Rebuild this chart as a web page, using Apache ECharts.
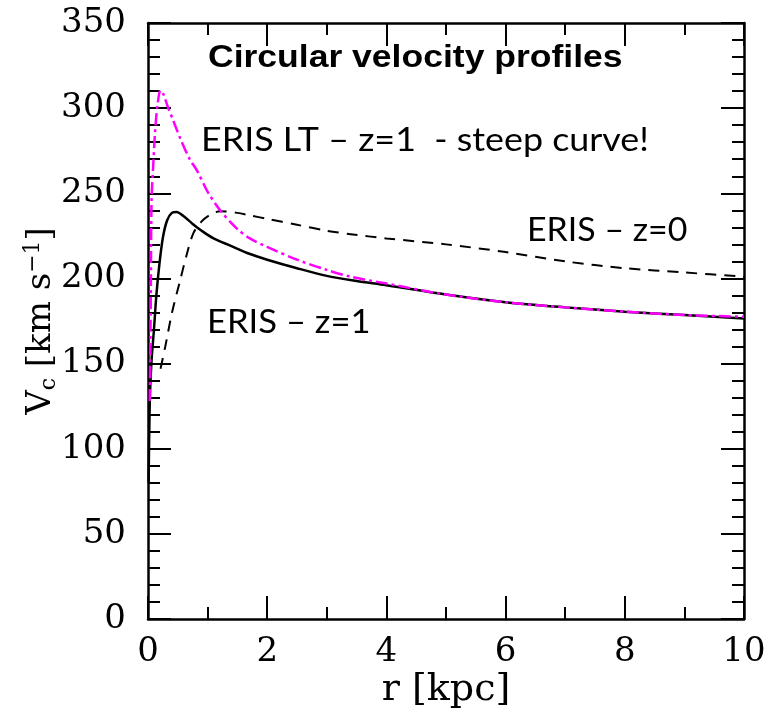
<!DOCTYPE html>
<html>
<head>
<meta charset="utf-8">
<script src="https://cdn.jsdelivr.net/npm/echarts@6/dist/echarts.min.js"></script>
<style>html,body{margin:0;padding:0;background:#fff}#c{width:768px;height:717px}</style>
</head>
<body>
<div id="c"></div>
<script>
// ERIS z=1 (solid black)
const rZ1 = [0.01,0.03,0.06,0.10,0.14,0.19,0.25,0.32,0.40,0.48,0.60,0.75,0.90,1.10,1.40,1.70,2.00,2.50,3.00,3.50,4.00,5.00,6.00,7.00,8.00,9.00,10.0];
const vZ1 = [80,128,152,170,190,208,224,234,238.5,239,236.5,232,228,223.5,219,214.5,211,206,201.5,198.5,196,190.5,186,183,180.5,178.5,176.5];
// ERIS z=0 (dashed black)
const rZ0 = [0.21,0.29,0.40,0.54,0.65,0.76,0.90,1.05,1.21,1.50,1.71,2.00,2.50,3.00,3.40,4.00,5.00,6.00,7.00,8.00,9.00,10.0];
const vZ0 = [147,160,179.5,199,214,226.5,233.5,237.5,239.5,238.5,237,235,231.5,228,226,223.5,220,215.5,210,206,203.5,201];
// ERIS LT z=1 (magenta dash-dot)
const rLT = [0.03,0.045,0.06,0.09,0.12,0.16,0.21,0.26,0.33,0.42,0.55,0.70,0.82,1.00,1.21,1.50,1.71,2.00,2.50,3.00,3.40,4.00,5.00,6.00,7.00,8.00,9.00,10.0];
const vLT = [128,180,246,268,287,302,310.5,308,301,293,281.5,270,263.5,251,240,229,223.5,218.5,211,205,201,197,190.5,186,183,180.5,178.5,177.5];

const xTicks = [0,2,4,6,8,10];
const yTicks = [0,50,100,150,200,250,300,350];

const pairs = (r, v) => r.map((x, i) => [x, v[i]]);

const chart = echarts.init(document.getElementById('c'), null, {renderer: 'canvas'});
const serif = 'DejaVu Serif';
const axisCommon = {
  axisLine: {show: true, onZero: false, lineStyle: {color: '#000', width: 2.5}},
  axisTick: {show: true, inside: true, length: 23, lineStyle: {color: '#000', width: 2}},
  minorTick: {show: true, length: 12, lineStyle: {color: '#000', width: 2}},
  splitLine: {show: false}
};
chart.setOption({
  animation: false,
  backgroundColor: '#fff',
  grid: {left: 148, top: 23, width: 596, height: 596, containLabel: false, outerBoundsMode: 'none'},
  xAxis: [
    Object.assign({type: 'value', position: 'bottom', min: xTicks[0], max: xTicks[xTicks.length-1], interval: 2,
      name: 'r [kpc]', nameLocation: 'middle', nameGap: 52, nameMoveOverlap: false,
      nameTextStyle: {fontFamily: serif, fontSize: 38, color: '#000'},
      axisLabel: {margin: 16, fontFamily: serif, fontSize: 34, color: '#000'}}, axisCommon,
      {minorTick: Object.assign({}, axisCommon.minorTick, {splitNumber: 2})}),
    Object.assign({type: 'value', position: 'top', min: 0, max: 10, interval: 2, axisLabel: {show: false}}, axisCommon,
      {minorTick: Object.assign({}, axisCommon.minorTick, {splitNumber: 2})})
  ],
  yAxis: [
    Object.assign({type: 'value', position: 'left', min: yTicks[0], max: yTicks[yTicks.length-1], interval: 50,
      name: 'V{sub|c} [km s{sup|−1}]', nameLocation: 'middle', nameGap: 88, nameMoveOverlap: false,
      nameTextStyle: {fontFamily: serif, fontSize: 34, color: '#000',
        rich: {sub: {fontFamily: serif, fontSize: 22, verticalAlign: 'bottom', padding: [16,0,0,0]},
               sup: {fontFamily: serif, fontSize: 22, verticalAlign: 'top', padding: [0,0,14,0]}}},
      axisLabel: {margin: 22, fontFamily: serif, fontSize: 34, color: '#000'}}, axisCommon,
      {minorTick: Object.assign({}, axisCommon.minorTick, {splitNumber: 5})}),
    Object.assign({type: 'value', position: 'right', min: 0, max: 350, interval: 50, axisLabel: {show: false}}, axisCommon,
      {minorTick: Object.assign({}, axisCommon.minorTick, {splitNumber: 5})})
  ],
  series: [
    {type: 'line', name: 'ERIS – z=0', data: pairs(rZ0, vZ0), smooth: 0.3, showSymbol: false,
      lineStyle: {color: '#000', width: 2, type: [11, 8]}},
    {type: 'line', name: 'ERIS – z=1', data: pairs(rZ1, vZ1), smooth: 0.3, showSymbol: false,
      lineStyle: {color: '#000', width: 2.5, type: 'solid'}},
    {type: 'line', name: 'ERIS LT – z=1', data: pairs(rLT, vLT), smooth: 0.3, showSymbol: false,
      lineStyle: {color: '#ff00ff', width: 2.5, type: [12, 4, 3, 4]}}
  ],
  graphic: [
    {type: 'text', x: 208, y: 42, scaleX: 1.11, style: {text: 'Circular velocity profiles', font: 'bold 32px "Liberation Sans", Arial', fill: '#000'}},
    {type: 'text', x: 201, y: 125, scaleX: 1.12, style: {text: 'ERIS LT – z=1  - steep curve!', font: '32px Lato', fill: '#000'}},
    {type: 'text', x: 527, y: 215, scaleX: 1.06, style: {text: 'ERIS – z=0', font: '32px Lato', fill: '#000'}},
    {type: 'text', x: 207, y: 307, scaleX: 1.08, style: {text: 'ERIS – z=1', font: '32px Lato', fill: '#000'}}
  ]
});
</script>
</body>
</html>
